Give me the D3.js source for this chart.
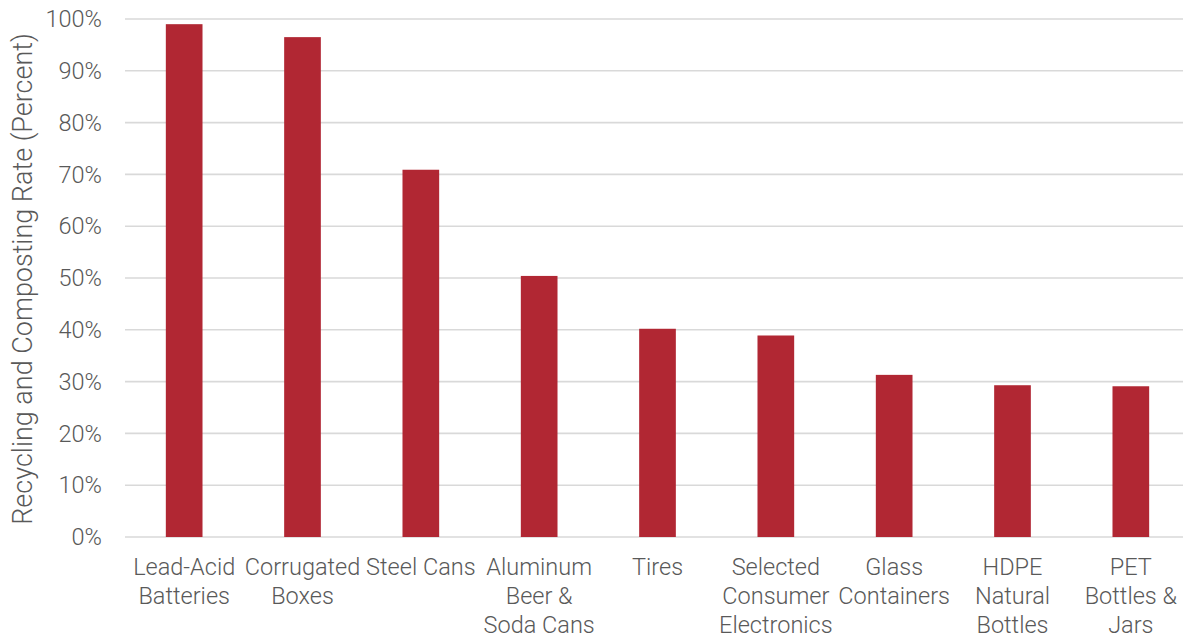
<!DOCTYPE html>
<html>
<head>
<meta charset="utf-8">
<script src="https://cdn.jsdelivr.net/npm/d3@7"></script>
<style>
  body { margin: 0; background: #fff; }
  text { font-family: Roboto, "Noto Sans", sans-serif; font-weight: 300; fill: #595959; }
</style>
</head>
<body>
<svg id="chart" width="1183" height="638"></svg>
<script>
// categories (each line of the wrapped label)
var categories = [
  ["Lead-Acid", "Batteries"],
  ["Corrugated", "Boxes"],
  ["Steel Cans"],
  ["Aluminum", "Beer &", "Soda Cans"],
  ["Tires"],
  ["Selected", "Consumer", "Electronics"],
  ["Glass", "Containers"],
  ["HDPE", "Natural", "Bottles"],
  ["PET", "Bottles &", "Jars"]
];
var rates = [99.0, 96.5, 70.9, 50.4, 40.2, 38.9, 31.3, 29.3, 29.1];
var yTicks = [0, 10, 20, 30, 40, 50, 60, 70, 80, 90, 100];

var svg = d3.select("#chart");
var plotLeft = 125, plotRight = 1190, plotTop = 19, plotBottom = 537;
var fontSize = 23.5;

var x = d3.scaleBand()
    .domain(d3.range(categories.length))
    .range([plotLeft, plotRight])
    .padding(0);
var y = d3.scaleLinear().domain([0, 100]).range([plotBottom, plotTop]);

var barW = x.bandwidth() * 0.31;

// gridlines
svg.selectAll(".grid")
    .data(yTicks)
    .enter()
    .append("line")
    .attr("class", "grid")
    .attr("x1", plotLeft)
    .attr("x2", 1183)
    .attr("y1", function(d){ return y(d); })
    .attr("y2", function(d){ return y(d); })
    .attr("stroke", "#d9d9d9")
    .attr("stroke-width", 1.6);

// y tick labels
svg.selectAll(".ytick")
    .data(yTicks)
    .enter()
    .append("text")
    .attr("class", "ytick")
    .attr("x", 102)
    .attr("y", function(d){ return y(d); })
    .attr("dy", "0.35em")
    .attr("text-anchor", "end")
    .attr("font-size", fontSize)
    .text(function(d){ return d + "%"; });

// bars
svg.selectAll(".bar")
    .data(rates)
    .enter()
    .append("rect")
    .attr("class", "bar")
    .attr("x", function(d, i){ return x(i) + x.bandwidth() / 2 - barW / 2; })
    .attr("width", barW)
    .attr("y", function(d){ return y(d); })
    .attr("height", function(d){ return y(0) - y(d); })
    .attr("fill", "#b12733");

// category labels
var lbl = svg.selectAll(".xlabel")
    .data(categories)
    .enter()
    .append("text")
    .attr("class", "xlabel")
    .attr("text-anchor", "middle")
    .attr("font-size", fontSize)
    .attr("transform", function(d, i){ return "translate(" + (x(i) + x.bandwidth() / 2) + ",575)"; });
lbl.selectAll("tspan")
    .data(function(d){ return d; })
    .enter()
    .append("tspan")
    .attr("x", 0)
    .attr("y", function(d, i){ return i * 29; })
    .text(function(d){ return d; });

// y axis title
svg.append("text")
    .attr("transform", "translate(32,279) rotate(-90)")
    .attr("text-anchor", "middle")
    .attr("font-size", 27)
    .text("Recycling and Composting Rate (Percent)");
</script>
</body>
</html>
